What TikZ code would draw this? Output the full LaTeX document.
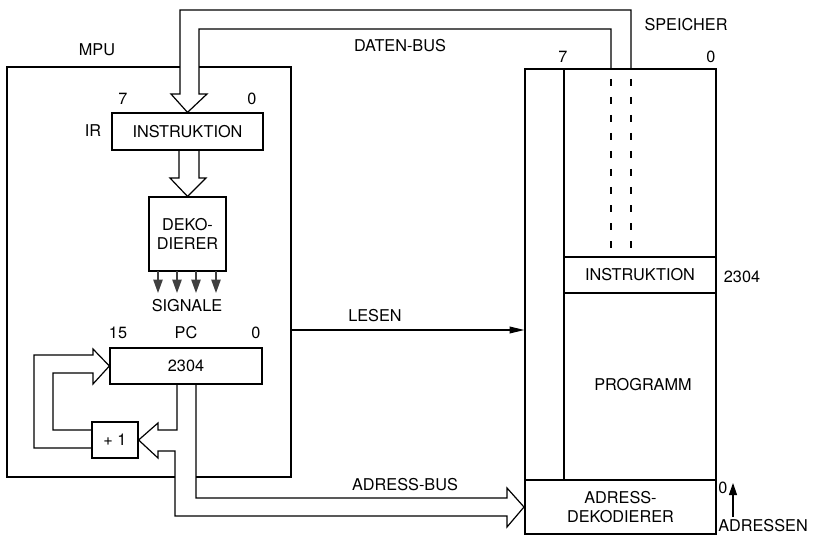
\documentclass[tikz,border=0pt]{standalone}
\usepackage{fontspec}
\setmainfont{TeX Gyre Heros}
\usetikzlibrary{arrows.meta,calc}
\def\pxu{0.75pt}
\begin{document}
\begin{tikzpicture}[x=0.75pt,y=-0.75pt,
  line width=0.9pt, line join=miter,
  every node/.style={font=\fontsize{12.2}{14}\selectfont, inner sep=0pt},
  box/.style={draw, line width=0.9pt, align=center},
  sigarrow/.style={draw=black!75, line width=1pt, -{Triangle[length=10pt,width=7pt]}},
  readarrow/.style={-{Triangle[length=11pt,width=5pt]}},
  busdash/.style={dash pattern=on 5pt off 8.5pt}
]
\useasboundingbox (0,0) rectangle (815,535);

% ---------- MPU ----------
\coordinate (mpuTL) at (7,67);
\coordinate (mpuBR) at (291,477);
\draw (180,67) -- (mpuTL) -- (7,477) -- (175,477);
\draw (199,67) -- (291,67) -- (mpuBR) -- (196,477);
\node (mpulbl) at (97,50) {MPU};

\node[box, minimum width=151*\pxu, minimum height=37*\pxu] (IR) at (187.5,131.5) {INSTRUKTION};
\node (irlbl) at (93,131) {IR};
\node (ir7) at (123,99) {7};
\node (ir0) at (252,99) {0};

\node[box, minimum width=77*\pxu, minimum height=74*\pxu] (DEK) at (187.5,234) {DEKO-\\DIERER};

\foreach \xx/\nn in {158/a,177/b,196/c,216/d}{
  \coordinate (s\nn) at (\xx,271);
  \draw[sigarrow] (s\nn) -- (\xx,293);
}
\node (siglbl) at (187,306) {SIGNALE};

\node[box, minimum width=152*\pxu, minimum height=36*\pxu] (PC) at (186,366) {2304};
\node (pc15) at (118,333) {15};
\node (pclbl) at (186,333) {PC};
\node (pc0) at (256,333) {0};

\node[box, minimum width=46*\pxu, minimum height=36*\pxu] (INC) at (115,440) {+ 1};

% IR -> Dekodierer wide arrow
\draw (179,150) -- (179,178) -- (170,178) -- (DEK.north) -- (206,178) -- (199,178) -- (199,150);

% feedback +1 -> PC
\draw (92,448) -- (34,448) -- (34,355) -- (93,355) -- (93,349) -- (PC.west) -- (93,384) -- (93,373) -- (53,373) -- (53,430) -- (92,430);

% PC -> +1 and address bus
\draw (177,384) -- (177,430) -- (158,430) -- (158,423) -- (INC.east) -- (158,458) -- (158,451) -- (175,451) -- (175,516) -- (507,516) -- (507,527) -- (524,507) -- (507,488) -- (507,498) -- (196,498) -- (196,384);
\node (adrbus) at (405,485) {ADRESS-BUS};

% ---------- Speicher ----------
\node[draw, minimum width=191*\pxu, minimum height=465*\pxu] (mem) at (620.5,301.5) {};
\node[box, minimum width=191*\pxu, minimum height=54*\pxu] (ADEK) at (620.5,507) {ADRESS-\\DEKODIERER};
\draw (564,69) -- (564,480);
\node[box, minimum width=152*\pxu, minimum height=36*\pxu] (MI) at (640,275) {INSTRUKTION};
\node (prog) at (643,385) {PROGRAMM};
\node (speicher) at (686,25) {SPEICHER};
\node (m7) at (563,57) {7};
\node (m0) at (711,57) {0};
\node (maddr) at (742,277) {2304};
\node (a0) at (723,488) {0};
\coordinate (adrA) at (733,517);
\draw[-{Triangle[length=9pt,width=6pt]}] (adrA) -- (733,483);
\node (adressen) at (763,526) {ADRESSEN};

% Daten-Bus
\draw (631,69) -- (631,10) -- (180,10) -- (180,94) -- (171,94) -- (IR.north) -- (207,94) -- (199,94) -- (199,29) -- (611,29) -- (611,69);
\draw[busdash] (611,79) -- (MI.north -| 611,0);
\draw[busdash] (631,79) -- (MI.north -| 631,0);
\node (datbus) at (400,46) {DATEN-BUS};

% Lesen
\coordinate (lesA) at (291,330);
\draw[readarrow] (lesA) -- (lesA -| mem.west);
\node (lesen) at (375,316) {LESEN};
\end{tikzpicture}
\end{document}
